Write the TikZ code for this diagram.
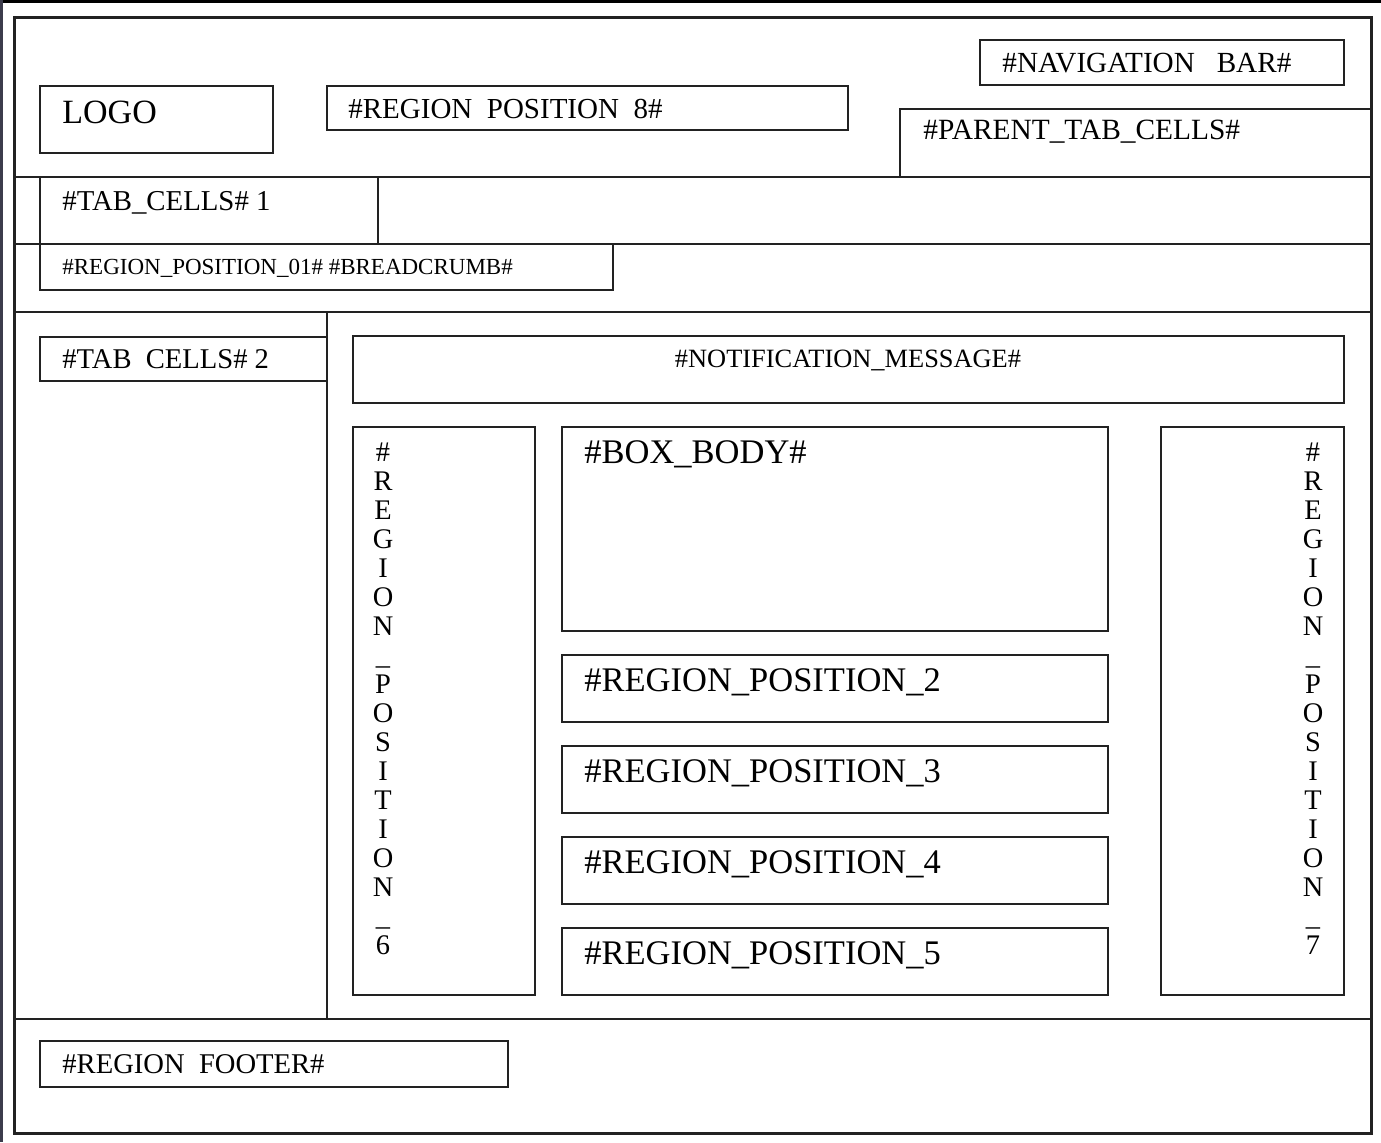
\documentclass[tikz,border=0pt]{standalone}
\usepackage{fontspec}
\setmainfont{Liberation Serif}
\newcommand{\fsz}[1]{\fontsize{#1}{#1}\selectfont}
\definecolor{ln}{HTML}{222222}
\definecolor{edgeL}{HTML}{3C3C4C}
\begin{document}
\begin{tikzpicture}[x=0.5pt,y=-0.5pt,
  frame/.style={draw=ln,line width=1.5pt},
  boxln/.style={draw=ln,line width=1pt},
  lbl/.style={anchor=base west,inner sep=0pt,text=black},
  vch/.style={anchor=base,inner sep=0pt,text=black,font=\fsz{14.2}}]
\useasboundingbox (0,0) rectangle (1381,1142);
\fill[white] (0,0) rectangle (1381,1142);
% screenshot edges
\fill[black] (0,0) rectangle (1381,3);
\fill[edgeL] (0,0) rectangle (2.5,1142);
% outer frame
\draw[frame] (14,17) rectangle (1371,1133);
% horizontal separators
\draw[boxln] (14,177) -- (1371,177);
\draw[boxln] (14,244) -- (1371,244);
\draw[boxln] (14,312) -- (1371,312);
\draw[boxln] (14,1019) -- (1371,1019);
\draw[boxln] (327,312) -- (327,1019);
% header boxes
\draw[boxln] (40,86) rectangle (273,153);
\draw[boxln] (327,86) rectangle (848,130);
\draw[boxln] (980,40) rectangle (1344,85);
\draw[boxln] (1371,109) -- (900,109) -- (900,177);
\draw[boxln] (40,177) rectangle (378,244);
\draw[boxln] (40,244) rectangle (613,290);
% body boxes
\draw[boxln] (40,337) rectangle (327,381);
\draw[boxln] (353,336) rectangle (1344,403);
\draw[boxln] (353,427) rectangle (535,995);
\draw[boxln] (1161,427) rectangle (1344,995);
\draw[boxln] (562,427) rectangle (1108,631);
\draw[boxln] (562,655) rectangle (1108,722);
\draw[boxln] (562,746) rectangle (1108,813);
\draw[boxln] (562,837) rectangle (1108,904);
\draw[boxln] (562,928) rectangle (1108,995);
% footer
\draw[boxln] (40,1041) rectangle (508,1087);
% labels
\node[lbl,font=\fsz{17}] (logo) at (62,123) {LOGO};
\node[lbl,font=\fsz{14.5}] (r8) at (348,118) {\#REGION\ \ POSITION\ \ 8\#};
\node[lbl,font=\fsz{14.6}] (nav) at (1002,72) {\#NAVIGATION\ \ \ BAR\#};
\node[lbl,font=\fsz{14.7}] (ptc) at (923,139) {\#PARENT\_TAB\_CELLS\#};
\node[lbl,font=\fsz{14.4}] (tc1) at (62,210) {\#TAB\_CELLS\# 1};
\node[lbl,font=\fsz{11.5}] (bc) at (62,274) {\#REGION\_POSITION\_01\# \#BREADCRUMB\#};
\node[lbl,font=\fsz{14.3}] (tc2) at (62,368) {\#TAB\ \ CELLS\# 2};
\node[anchor=base,inner sep=0pt,font=\fsz{13.2}] (notif) at (848,367) {\#NOTIFICATION\_MESSAGE\#};
\node[lbl,font=\fsz{17.25}] (bb) at (584,463) {\#BOX\_BODY\#};
\node[lbl,font=\fsz{17.25}] (rp2) at (584,691) {\#REGION\_POSITION\_2};
\node[lbl,font=\fsz{17.25}] (rp3) at (584,782) {\#REGION\_POSITION\_3};
\node[lbl,font=\fsz{17.25}] (rp4) at (584,873) {\#REGION\_POSITION\_4};
\node[lbl,font=\fsz{17.25}] (rp5) at (584,964) {\#REGION\_POSITION\_5};
\node[lbl,font=\fsz{14.3}] (foot) at (62,1073) {\#REGION\ \ FOOTER\#};
% vertical labels
\foreach \c [count=\i from 0] in {\#,R,E,G,I,O,N,\_,P,O,S,I,T,I,O,N,\_,6}
  \node[vch] (vl\i) at (383,{461+29*\i}) {\c};
\foreach \c [count=\i from 0] in {\#,R,E,G,I,O,N,\_,P,O,S,I,T,I,O,N,\_,7}
  \node[vch] (vr\i) at (1313,{461+29*\i}) {\c};
\end{tikzpicture}
\end{document}
